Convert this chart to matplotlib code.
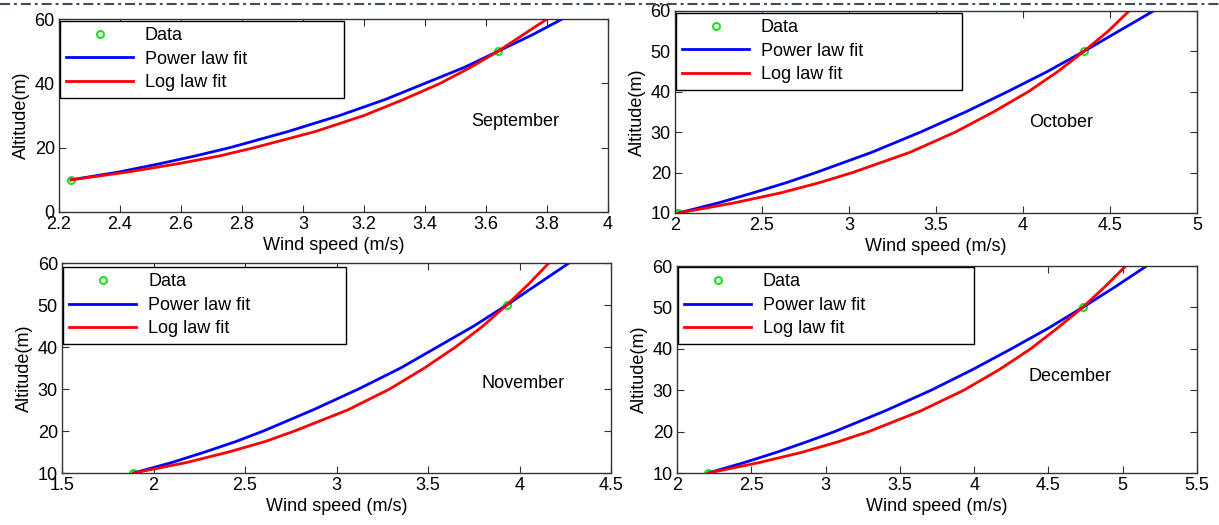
import matplotlib
matplotlib.use("Agg")
import matplotlib.pyplot as plt
from matplotlib.lines import Line2D

ALTITUDES = [10, 12.5, 15, 17.5, 20, 25, 30, 35, 40, 45, 50, 55, 60]
DATA_ALT = [10, 50]

MONTHS = ["September", "October", "November", "December"]

sep_data = [2.24, 3.64]
sep_power = [2.24, 2.40, 2.53, 2.65, 2.76, 2.95, 3.12, 3.27, 3.40, 3.53,
             3.64, 3.75, 3.85]
sep_log = [2.24, 2.43, 2.59, 2.73, 2.84, 3.04, 3.20, 3.33, 3.45, 3.55,
           3.64, 3.72, 3.80]

oct_data = [2.02, 4.35]
oct_power = [2.02, 2.25, 2.45, 2.64, 2.81, 3.13, 3.41, 3.67, 3.91, 4.14,
             4.35, 4.55, 4.75]
oct_log = [2.02, 2.34, 2.61, 2.83, 3.02, 3.35, 3.61, 3.83, 4.03, 4.20,
           4.35, 4.49, 4.61]

nov_data = [1.89, 3.93]
nov_power = [1.89, 2.10, 2.28, 2.45, 2.60, 2.87, 3.12, 3.35, 3.55, 3.75,
             3.93, 4.10, 4.27]
nov_log = [1.89, 2.18, 2.41, 2.61, 2.77, 3.06, 3.29, 3.48, 3.65, 3.80,
           3.93, 4.05, 4.16]

dec_data = [2.21, 4.73]
dec_power = [2.21, 2.45, 2.67, 2.87, 3.06, 3.40, 3.71, 3.99, 4.25, 4.50,
             4.73, 4.95, 5.16]
dec_log = [2.21, 2.55, 2.84, 3.08, 3.29, 3.64, 3.93, 4.17, 4.38, 4.56,
           4.73, 4.88, 5.02]

sep_xticks = [2.2, 2.4, 2.6, 2.8, 3, 3.2, 3.4, 3.6, 3.8, 4]
oct_xticks = [2, 2.5, 3, 3.5, 4, 4.5, 5]
nov_xticks = [1.5, 2, 2.5, 3, 3.5, 4, 4.5]
dec_xticks = [2, 2.5, 3, 3.5, 4, 4.5, 5, 5.5]
sep_yticks = [0, 20, 40, 60]
other_yticks = [10, 20, 30, 40, 50, 60]

GREEN = "#22dd22"
SPINE = "#333333"

plt.rcParams["font.family"] = ["Liberation Sans", "DejaVu Sans"]
plt.rcParams["font.size"] = 13


def tick_label(v):
    return f"{v:g}"


def draw_panel(ax, month, data, power, log, xticks, yticks, text_xy, legend_box):
    ax.plot(data, DATA_ALT, "o", color=GREEN, mfc="none", ms=5, mew=1.5,
            label="Data")
    ax.plot(power, ALTITUDES, color="b", lw=2, label="Power law fit")
    ax.plot(log, ALTITUDES, color="r", lw=2, label="Log law fit")

    ax.set_xlim(xticks[0], xticks[-1])
    ax.set_ylim(yticks[0], yticks[-1])
    ax.set_xticks(xticks)
    ax.set_yticks(yticks)
    ax.set_xticklabels([tick_label(v) for v in xticks])
    ax.set_yticklabels([tick_label(v) for v in yticks])
    ax.tick_params(direction="in", length=5, width=0.8, top=True, right=True,
                   pad=3, color=SPINE)
    for sp in ax.spines.values():
        sp.set_color(SPINE)
        sp.set_linewidth(1.0)

    ax.set_xlabel("Wind speed (m/s)", labelpad=2.5)
    ax.set_ylabel("Altitude(m)", labelpad=3)
    ax.text(text_xy[0], text_xy[1], month, ha="center", va="center")

    leg = ax.legend(loc="upper left", mode="expand",
                    bbox_to_anchor=(0.002, 0, legend_box[0], legend_box[1]),
                    borderaxespad=0, fancybox=False, framealpha=1,
                    edgecolor="black", handlelength=3.7, handletextpad=0.65,
                    labelspacing=0.36, borderpad=0.35)
    leg.get_frame().set_linewidth(1.0)


def main():
    fig = plt.figure(figsize=(12.19, 5.25), dpi=100)

    panels = [
        ([0.0484, 0.5962, 0.4504, 0.3676], sep_data, sep_power, sep_log,
         sep_xticks, sep_yticks, (3.695, 28.0), (0.517, 0.99)),
        ([0.5537, 0.5943, 0.4282, 0.3848], oct_data, oct_power, oct_log,
         oct_xticks, other_yticks, (4.22, 32.3), (0.548, 0.99)),
        ([0.0509, 0.0990, 0.4504, 0.4000], nov_data, nov_power, nov_log,
         nov_xticks, other_yticks, (4.02, 31.2), (0.515, 0.981)),
        ([0.5554, 0.0990, 0.4266, 0.3943], dec_data, dec_power, dec_log,
         dec_xticks, other_yticks, (4.645, 33.2), (0.569, 0.995)),
    ]
    for month, p in zip(MONTHS, panels):
        ax = fig.add_axes(p[0])
        draw_panel(ax, month, *p[1:])

    # dash-dot separator along the top edge
    fig.add_artist(Line2D([0, 1], [0.992, 0.992], transform=fig.transFigure,
                          color="#3d4f63", lw=1.5,
                          linestyle=(0, (4.8, 1.9, 1.4, 1.9))))

    fig.savefig("out.png", dpi=100)


if __name__ == "__main__":
    main()
